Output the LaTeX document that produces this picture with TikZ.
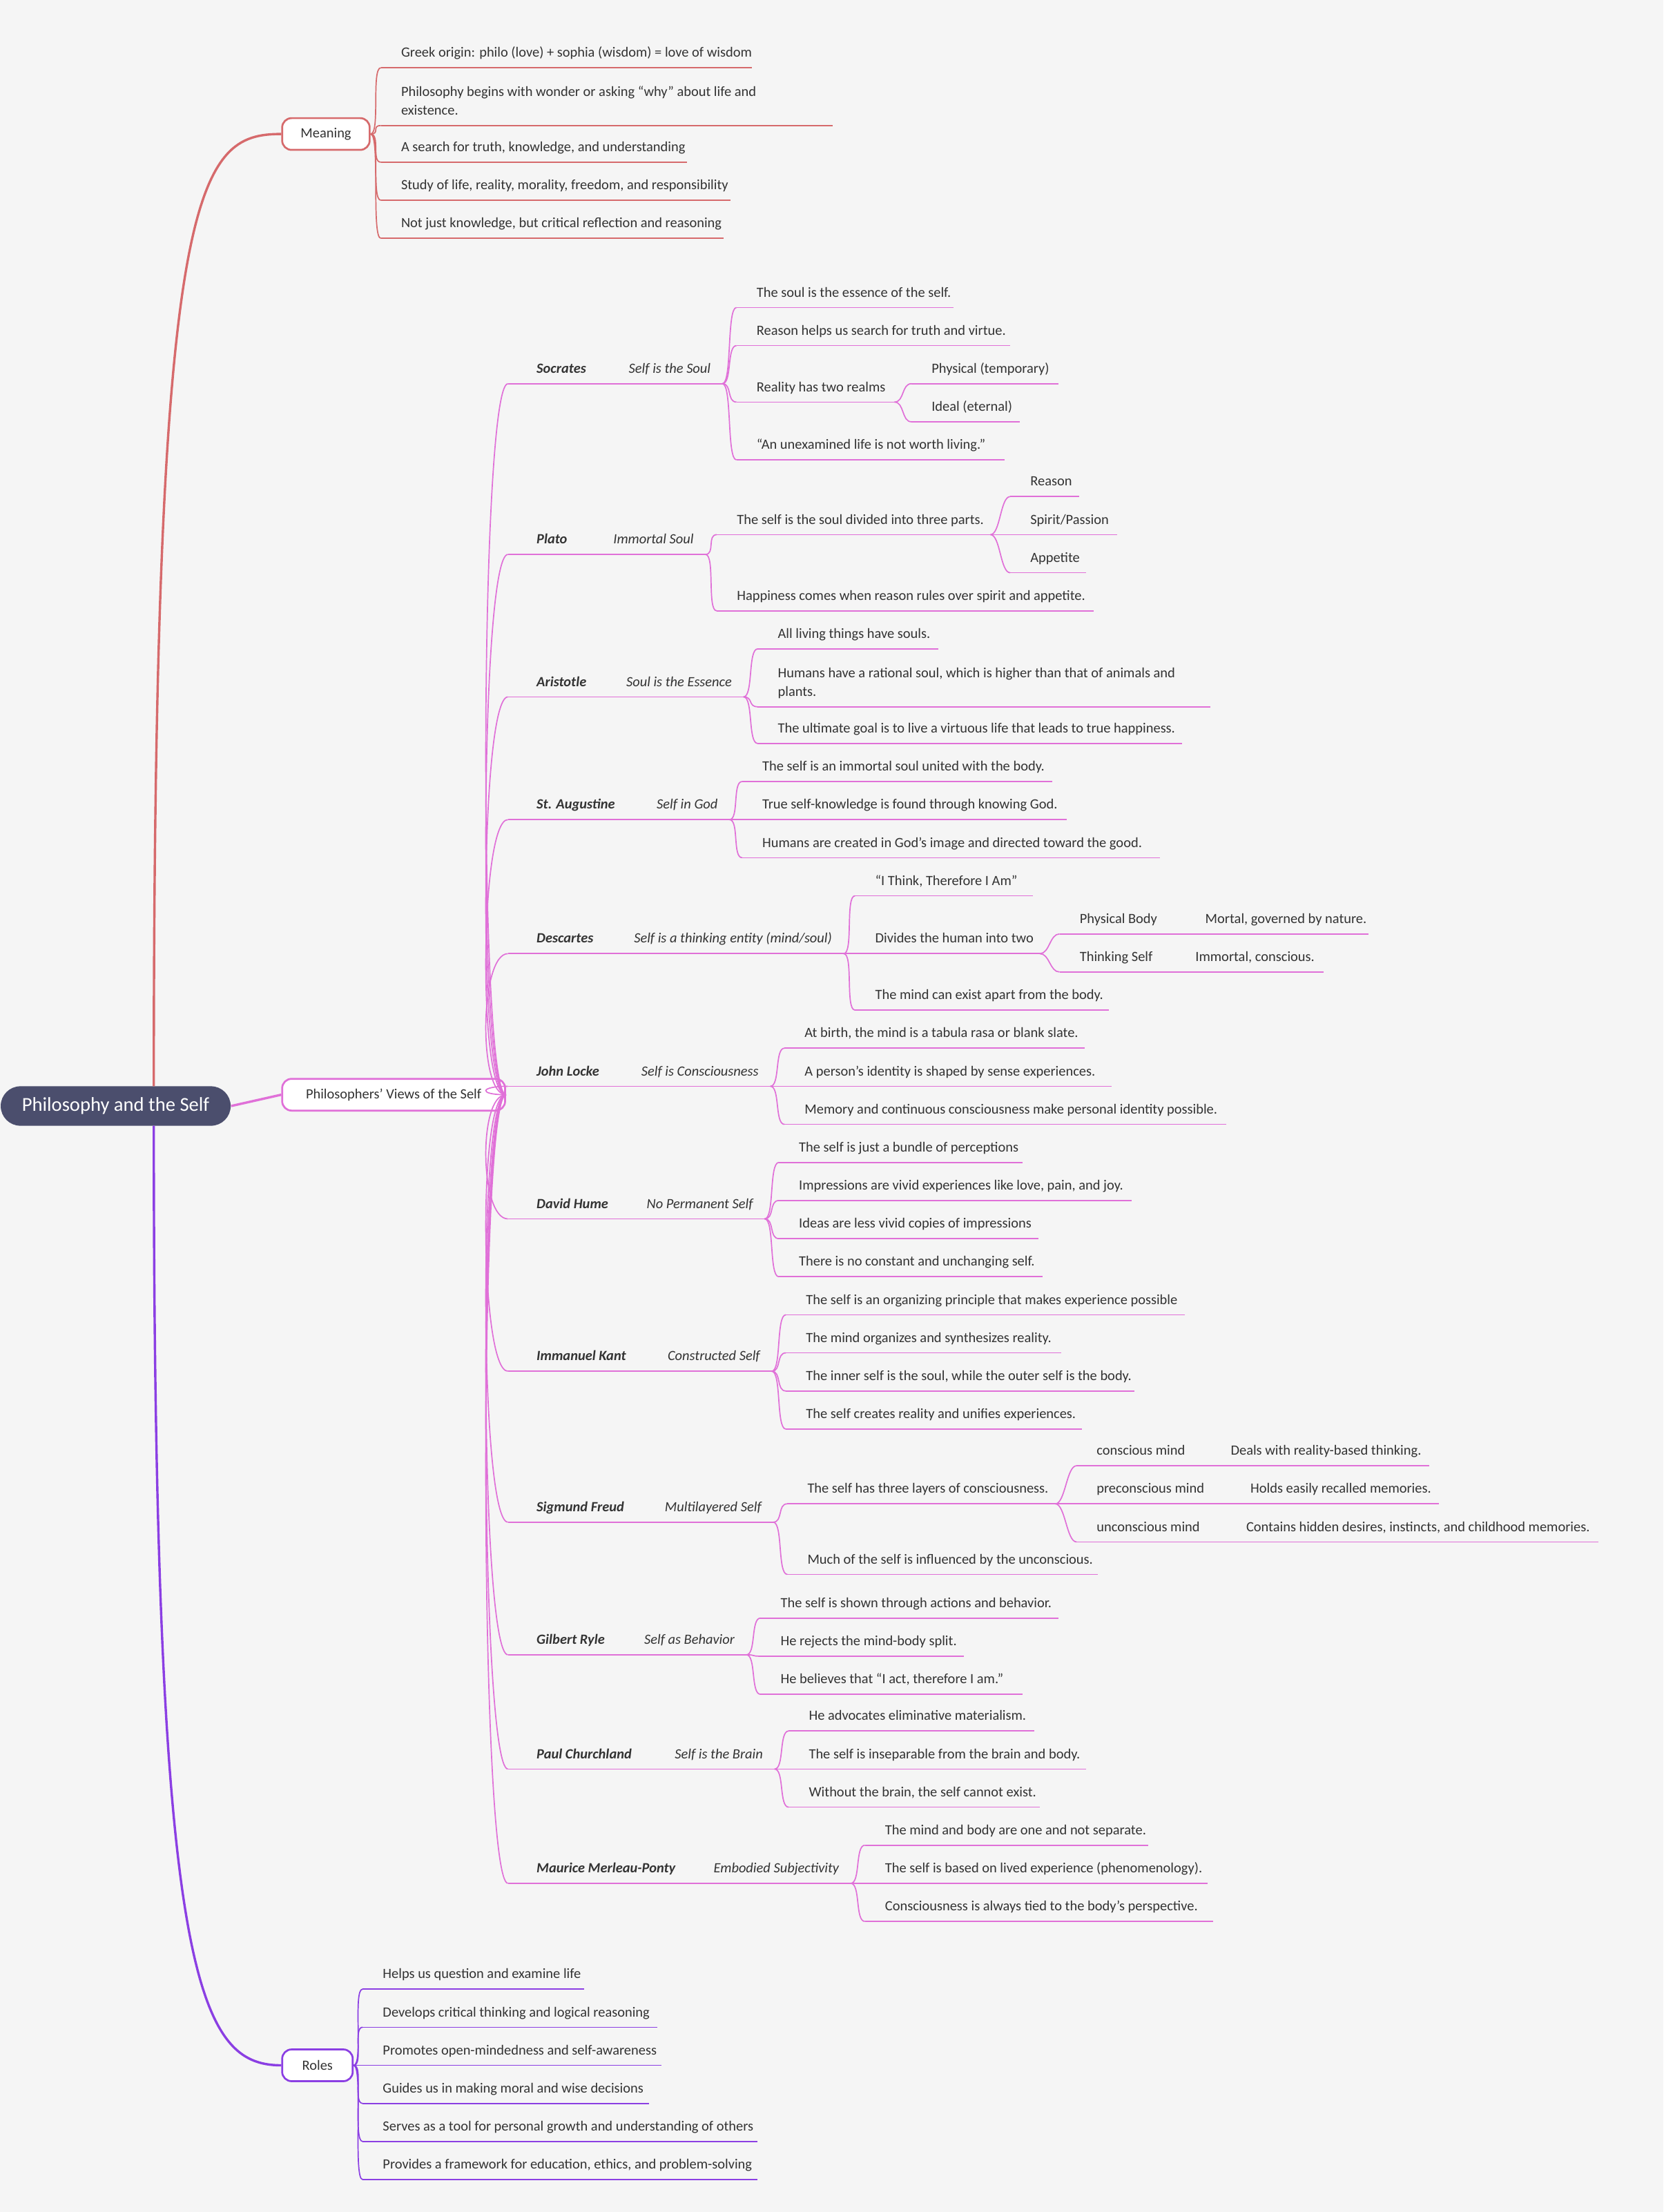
\documentclass[tikz,border=0pt]{standalone}
\usepackage{fontspec}
\setmainfont{Carlito}
\definecolor{bgc}{HTML}{F5F5F5}
\definecolor{txt}{HTML}{333333}
\definecolor{rootc}{HTML}{4B4E6D}
\definecolor{redc}{HTML}{D66A6C}
\definecolor{pinkc}{HTML}{E070D8}
\definecolor{purc}{HTML}{8B3FE3}

% leaf: name, x start, x end, y, colour, text
\newcommand\leaf[6]{%
  \coordinate (#1) at (#2,#4);
  \coordinate (#1-e) at (#3,#4);
  \node[leaftext] (#1-t) at (#2+14,#4-3) {#6};
  \draw[#5, thin line] (#1) -- (#1-e);}
% connector between named points
\newcommand\conn[3]{\draw[#1, thin line] (#2) .. controls +(7,0) and +(-7,0) .. (#3);}
% philosopher: name, y, x end, person, subtitle
\newcommand\phil[5]{%
  \coordinate (#1) at (360,#2);
  \coordinate (#1-e) at (#3,#2);
  \node[nametext] (#1-n) at (380,#2-3) {#4};
  \node[subtext] (#1-s) at (#3-8,#2-3) {#5};
  \draw[pinkc, thin line] (#1) -- (#1-e);
  \draw[pinkc, thin line] (phil.east) .. controls +(-20,0) and +(-20,0) .. (#1);}

\begin{document}
\begin{tikzpicture}[x=0.6pt, y=-0.6pt,
  thin line/.style={line width=0.5pt},
  leaftext/.style={anchor=south west, inner sep=0pt, text=txt, align=left,
    font=\fontsize{6}{7.8}\selectfont, text depth=0.25em},
  nametext/.style={anchor=south west, inner sep=0pt, text=txt,
    font=\fontsize{6}{7.8}\selectfont\bfseries\itshape, text depth=0.25em},
  subtext/.style={anchor=south east, inner sep=0pt, text=txt,
    font=\fontsize{6}{7.8}\selectfont\itshape, text depth=0.25em},
  topic/.style={draw, fill=white, rounded corners=4pt, line width=0.8pt,
    text=txt, font=\fontsize{6}{7.8}\selectfont, minimum height=13.5pt, inner xsep=2pt}]

\fill[bgc] (0,0) rectangle (1179,1568);
\useasboundingbox (0,0) rectangle (1179,1568);

\node[fill=rootc, rounded corners=8.4pt, minimum width=97.8pt, minimum height=16.8pt,
  text=white, font=\fontsize{8.4}{10}\selectfont] (root) at (82,784) {Philosophy and the Self};
\coordinate (rootup) at (109,770);
\coordinate (rootdn) at (109,798);

\node[topic, draw=redc, minimum width=37.2pt] (meaning) at (231,95) {Meaning};
\node[topic, draw=pinkc, minimum width=94.8pt] (phil) at (279,776) {Philosophers’ Views of the Self};
\node[topic, draw=purc, minimum width=30pt] (roles) at (225,1464) {Roles};

\draw[redc, line width=1pt] (rootup) .. controls +(0,-640) and +(-60,0) .. (meaning.west);
\draw[pinkc, line width=1pt] (root.east) -- (phil.west);
\draw[purc, line width=1pt] (rootdn) .. controls +(0,600) and +(-60,0) .. (roles.west);

% Meaning
\leaf{m1}{270}{533}{48}{redc}{Greek origin: philo (love) + sophia (wisdom) = love of wisdom}
\leaf{m2}{270}{590}{89}{redc}{Philosophy begins with wonder or asking “why” about life and\\existence.}
\leaf{m3}{270}{487}{115}{redc}{A search for truth, knowledge, and understanding}
\leaf{m4}{270}{518}{142}{redc}{Study of life, reality, morality, freedom, and responsibility}
\leaf{m5}{270}{513}{169}{redc}{Not just knowledge, but critical reflection and reasoning}
\foreach \i in {m1,m2,m3,m4,m5} {\conn{redc}{meaning.east}{\i}}

% Socrates
\phil{soc}{272}{512}{Socrates}{Self is the Soul}
\leaf{soc1}{522}{676}{218}{pinkc}{The soul is the essence of the self.}
\leaf{soc2}{522}{716}{245}{pinkc}{Reason helps us search for truth and virtue.}
\leaf{soc3}{522}{634}{285}{pinkc}{Reality has two realms}
\leaf{soc4}{522}{712}{326}{pinkc}{“An unexamined life is not worth living.”}
\foreach \i in {soc1,soc2,soc3,soc4} {\conn{pinkc}{soc-e}{\i}}
\leaf{soc3a}{646}{750}{272}{pinkc}{Physical (temporary)}
\leaf{soc3b}{646}{723}{299}{pinkc}{Ideal (eternal)}
\conn{pinkc}{soc3-e}{soc3a}
\conn{pinkc}{soc3-e}{soc3b}

% Plato
\phil{pla}{393}{500}{Plato}{Immortal Soul}
\leaf{pla1}{508}{702}{379}{pinkc}{The self is the soul divided into three parts.}
\leaf{pla2}{508}{775}{433}{pinkc}{Happiness comes when reason rules over spirit and appetite.}
\conn{pinkc}{pla-e}{pla1}
\conn{pinkc}{pla-e}{pla2}
\leaf{pla1a}{716}{765}{352}{pinkc}{Reason}
\leaf{pla1b}{716}{792}{379}{pinkc}{Spirit/Passion}
\leaf{pla1c}{716}{770}{406}{pinkc}{Appetite}
\foreach \i in {pla1a,pla1b,pla1c} {\conn{pinkc}{pla1-e}{\i}}

% Aristotle
\phil{ari}{494}{527}{Aristotle}{Soul is the Essence}
\leaf{ari1}{537}{665}{460}{pinkc}{All living things have souls.}
\leaf{ari2}{537}{858}{501}{pinkc}{Humans have a rational soul, which is higher than that of animals and\\plants.}
\leaf{ari3}{537}{838}{527}{pinkc}{The ultimate goal is to live a virtuous life that leads to true happiness.}
\foreach \i in {ari1,ari2,ari3} {\conn{pinkc}{ari-e}{\i}}

% St. Augustine
\phil{aug}{581}{517}{St. Augustine}{Self in God}
\leaf{aug1}{526}{746}{554}{pinkc}{The self is an immortal soul united with the body.}
\leaf{aug2}{526}{756}{581}{pinkc}{True self-knowledge is found through knowing God.}
\leaf{aug3}{526}{822}{608}{pinkc}{Humans are created in God’s image and directed toward the good.}
\foreach \i in {aug1,aug2,aug3} {\conn{pinkc}{aug-e}{\i}}

% Descartes
\phil{des}{676}{598}{Descartes}{Self is a thinking entity (mind/soul)}
\leaf{des1}{606}{732}{635}{pinkc}{“I Think, Therefore I Am”}
\leaf{des2}{606}{737}{676}{pinkc}{Divides the human into two}
\leaf{des3}{606}{786}{716}{pinkc}{The mind can exist apart from the body.}
\foreach \i in {des1,des2,des3} {\conn{pinkc}{des-e}{\i}}
\leaf{des2a}{751}{840}{662}{pinkc}{Physical Body}
\leaf{des2b}{751}{833}{689}{pinkc}{Thinking Self}
\conn{pinkc}{des2-e}{des2a}
\conn{pinkc}{des2-e}{des2b}
\leaf{des2a1}{840}{970}{662}{pinkc}{Mortal, governed by nature.}
\leaf{des2b1}{833}{938}{689}{pinkc}{Immortal, conscious.}

% John Locke
\phil{loc}{770}{546}{John Locke}{Self is Consciousness}
\leaf{loc1}{556}{769}{743}{pinkc}{At birth, the mind is a tabula rasa or blank slate.}
\leaf{loc2}{556}{788}{770}{pinkc}{A person’s identity is shaped by sense experiences.}
\leaf{loc3}{556}{869}{797}{pinkc}{Memory and continuous consciousness make personal identity possible.}
\foreach \i in {loc1,loc2,loc3} {\conn{pinkc}{loc-e}{\i}}

% David Hume
\phil{hum}{864}{542}{David Hume}{No Permanent Self}
\leaf{hum1}{552}{725}{824}{pinkc}{The self is just a bundle of perceptions}
\leaf{hum2}{552}{802}{851}{pinkc}{Impressions are vivid experiences like love, pain, and joy.}
\leaf{hum3}{552}{736}{878}{pinkc}{Ideas are less vivid copies of impressions}
\leaf{hum4}{552}{739}{905}{pinkc}{There is no constant and unchanging self.}
\foreach \i in {hum1,hum2,hum3,hum4} {\conn{pinkc}{hum-e}{\i}}

% Immanuel Kant
\phil{kan}{972}{547}{Immanuel Kant}{Constructed Self}
\leaf{kan1}{557}{840}{932}{pinkc}{The self is an organizing principle that makes experience possible}
\leaf{kan2}{557}{752}{959}{pinkc}{The mind organizes and synthesizes reality.}
\leaf{kan3}{557}{804}{986}{pinkc}{The inner self is the soul, while the outer self is the body.}
\leaf{kan4}{557}{767}{1013}{pinkc}{The self creates reality and unifies experiences.}
\foreach \i in {kan1,kan2,kan3,kan4} {\conn{pinkc}{kan-e}{\i}}

% Sigmund Freud
\phil{fre}{1079}{548}{Sigmund Freud}{Multilayered Self}
\leaf{fre1}{558}{748}{1066}{pinkc}{The self has three layers of consciousness.}
\leaf{fre2}{558}{778}{1116}{pinkc}{Much of the self is influenced by the unconscious.}
\conn{pinkc}{fre-e}{fre1}
\conn{pinkc}{fre-e}{fre2}
\leaf{fre1a}{763}{858}{1039}{pinkc}{conscious mind}
\leaf{fre1b}{763}{872}{1066}{pinkc}{preconscious mind}
\leaf{fre1c}{763}{869}{1093}{pinkc}{unconscious mind}
\foreach \i in {fre1a,fre1b,fre1c} {\conn{pinkc}{fre1-e}{\i}}
\leaf{fre1a1}{858}{1013}{1039}{pinkc}{Deals with reality-based thinking.}
\leaf{fre1b1}{872}{1020}{1066}{pinkc}{Holds easily recalled memories.}
\leaf{fre1c1}{869}{1133}{1093}{pinkc}{Contains hidden desires, instincts, and childhood memories.}

% Gilbert Ryle
\phil{ryl}{1173}{529}{Gilbert Ryle}{Self as Behavior}
\leaf{ryl1}{539}{750}{1147}{pinkc}{The self is shown through actions and behavior.}
\leaf{ryl2}{539}{683}{1174}{pinkc}{He rejects the mind-body split.}
\leaf{ryl3}{539}{725}{1201}{pinkc}{He believes that “I act, therefore I am.”}
\foreach \i in {ryl1,ryl2,ryl3} {\conn{pinkc}{ryl-e}{\i}}

% Paul Churchland
\phil{chu}{1254}{549}{Paul Churchland}{Self is the Brain}
\leaf{chu1}{559}{733}{1227}{pinkc}{He advocates eliminative materialism.}
\leaf{chu2}{559}{770}{1254}{pinkc}{The self is inseparable from the brain and body.}
\leaf{chu3}{559}{737}{1281}{pinkc}{Without the brain, the self cannot exist.}
\foreach \i in {chu1,chu2,chu3} {\conn{pinkc}{chu-e}{\i}}

% Maurice Merleau-Ponty
\phil{mer}{1335}{603}{Maurice Merleau-Ponty}{Embodied Subjectivity}
\leaf{mer1}{613}{814}{1308}{pinkc}{The mind and body are one and not separate.}
\leaf{mer2}{613}{856}{1335}{pinkc}{The self is based on lived experience (phenomenology).}
\leaf{mer3}{613}{860}{1362}{pinkc}{Consciousness is always tied to the body’s perspective.}
\foreach \i in {mer1,mer2,mer3} {\conn{pinkc}{mer-e}{\i}}

% Roles
\leaf{r1}{257}{414}{1410}{purc}{Helps us question and examine life}
\leaf{r2}{257}{466}{1437}{purc}{Develops critical thinking and logical reasoning}
\leaf{r3}{257}{469}{1464}{purc}{Promotes open-mindedness and self-awareness}
\leaf{r4}{257}{460}{1491}{purc}{Guides us in making moral and wise decisions}
\leaf{r5}{257}{537}{1518}{purc}{Serves as a tool for personal growth and understanding of others}
\leaf{r6}{257}{537}{1545}{purc}{Provides a framework for education, ethics, and problem-solving}
\foreach \i in {r1,r2,r3,r4,r5,r6} {\conn{purc}{roles.east}{\i}}
\end{tikzpicture}
\end{document}
